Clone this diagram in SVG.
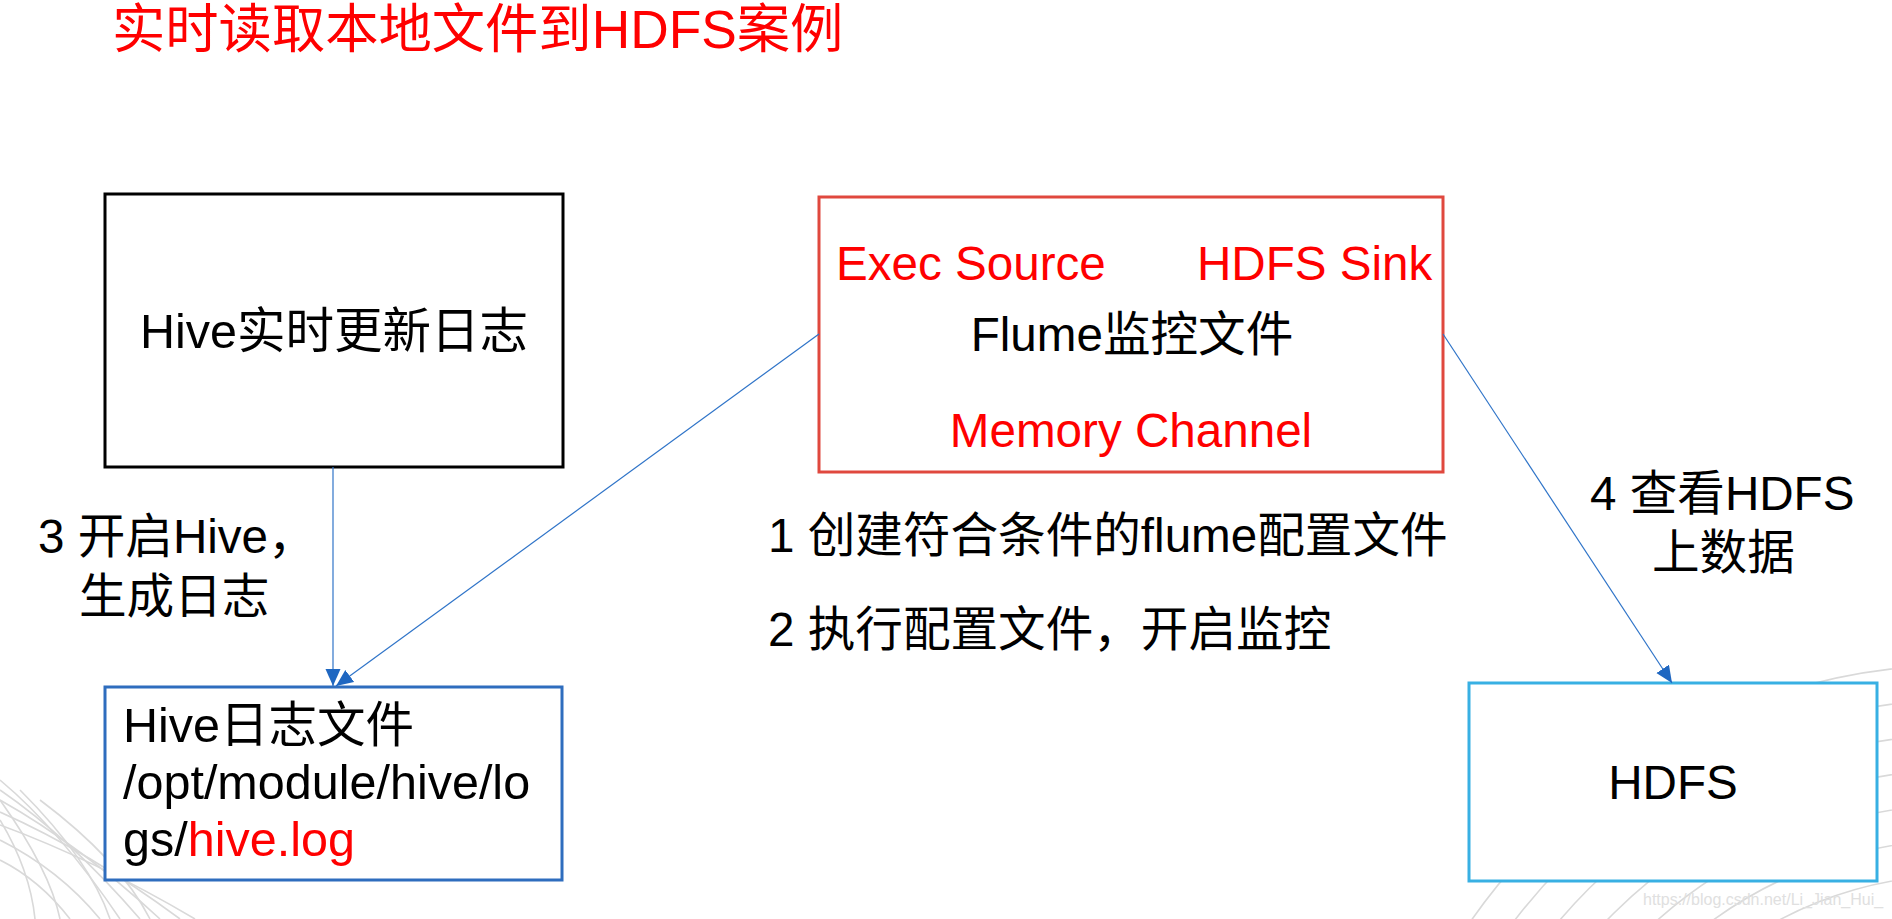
<svg xmlns="http://www.w3.org/2000/svg" width="1892" height="919" viewBox="0 0 1892 919">
  <style>
    .t { font-family: "Liberation Sans", "Noto Sans CJK SC", sans-serif; font-size: 47.6px; fill: #000; }
    .red { fill: #FF0000; }
    .box { fill: #fff; stroke-width: 3; }
    .conn { fill: none; stroke: #2F74C8; stroke-width: 1.2; }
    .deco { fill: none; stroke: #d9d9d9; stroke-width: 1.6; }
  </style>
  <defs>
    <marker id="arr" markerUnits="userSpaceOnUse" markerWidth="20" markerHeight="16" refX="17" refY="7.5" orient="auto">
      <path d="M0,0 L17,7.5 L0,15 z" fill="#1F67C1"/>
    </marker>
  </defs>
  <rect x="0" y="0" width="1892" height="919" fill="#fff"/>

  <!-- background decoration -->
  <g id="decoration">
    <path class="deco" d="M0,780 Q60,830 120,919"/>
    <path class="deco" d="M0,790 Q70,838 140,919"/>
    <path class="deco" d="M0,800 Q80,845 160,919"/>
    <path class="deco" d="M0,812 Q90,852 180,919"/>
    <path class="deco" d="M0,825 Q95,860 195,919"/>
    <path class="deco" d="M0,840 Q60,870 100,919"/>
    <path class="deco" d="M0,860 Q40,880 70,919"/>
    <path class="deco" d="M0,800 Q50,870 60,919"/>
    <path class="deco" d="M0,820 Q30,870 35,919"/>
    <path class="deco" d="M20,790 Q90,860 110,919"/>
    <path class="deco" d="M40,800 Q120,860 150,919"/>
    <circle class="deco" cx="1960" cy="1260" r="385"/>
    <circle class="deco" cx="1960" cy="1260" r="420"/>
    <circle class="deco" cx="1960" cy="1260" r="455"/>
    <circle class="deco" cx="1960" cy="1260" r="490"/>
    <circle class="deco" cx="1960" cy="1260" r="525"/>
    <circle class="deco" cx="1960" cy="1260" r="560"/>
    <circle class="deco" cx="1960" cy="1260" r="595"/>
  </g>

  <text id="title" class="t red" x="112" y="48" style="font-size:53.3px">实时读取本地文件到HDFS案例</text>

  <g id="hive-update">
    <rect class="box" x="105" y="194" width="458" height="273" stroke="#000"/>
    <text class="t" x="334" y="348" text-anchor="middle" style="font-size:48.5px">Hive实时更新日志</text>
  </g>

  <g id="flume">
    <rect class="box" x="819" y="197" width="624" height="275" stroke="#E0483E"/>
    <text class="t red" x="836" y="280">Exec Source</text>
    <text class="t red" x="1197" y="280">HDFS Sink</text>
    <text class="t" x="1132" y="351" text-anchor="middle">Flume监控文件</text>
    <text class="t red" x="1131" y="447" text-anchor="middle">Memory Channel</text>
  </g>

  <g id="hive-log">
    <rect class="box" x="105" y="687" width="457" height="193" stroke="#2E6DBE"/>
    <text class="t" x="123" y="742" style="font-size:48.5px">Hive日志文件</text>
    <text class="t" x="123" y="799" style="font-size:48.5px">/opt/module/hive/lo</text>
    <text class="t" x="123" y="856" style="font-size:48.5px">gs/<tspan class="red">hive.log</tspan></text>
  </g>

  <g id="hdfs">
    <rect class="box" x="1469" y="683" width="408" height="198" stroke="#38B0E3"/>
    <text class="t" x="1673" y="799" text-anchor="middle">HDFS</text>
  </g>

  <g id="connectors">
    <line class="conn" x1="333" y1="467" x2="333" y2="686" marker-end="url(#arr)"/>
    <line class="conn" x1="819" y1="334" x2="336" y2="686" marker-end="url(#arr)"/>
    <line class="conn" x1="1443" y1="334" x2="1672" y2="683" marker-end="url(#arr)"/>
  </g>

  <g id="labels">
    <text class="t" x="38" y="553">3 开启Hive，</text>
    <text class="t" x="79" y="613">生成日志</text>
    <text class="t" x="768" y="552">1 创建符合条件的flume配置文件</text>
    <text class="t" x="768" y="646">2 执行配置文件，开启监控</text>
    <text class="t" x="1590" y="510">4 查看HDFS</text>
    <text class="t" x="1652" y="569">上数据</text>
  </g>

  <text id="watermark" x="1643" y="905" style="font-family:'Liberation Sans',sans-serif;font-size:16px;fill:#e0e0e0">https://blog.csdn.net/Li_Jian_Hui_</text>
</svg>
